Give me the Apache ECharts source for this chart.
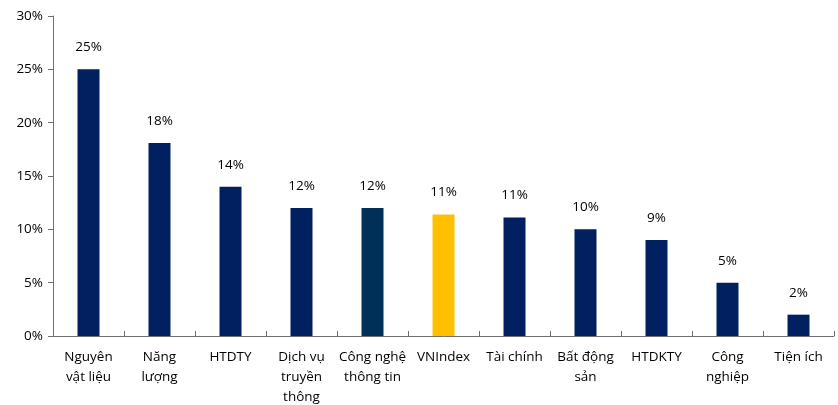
<!DOCTYPE html>
<html>
<head>
<meta charset="utf-8">
<script src="https://cdn.jsdelivr.net/npm/echarts@6/dist/echarts.min.js"></script>
<style>html,body{margin:0;padding:0;background:#fff}#c{width:838px;height:405px}</style>
</head>
<body>
<div id="c"></div>
<script>
const categories = ["Nguyên\nvật liệu","Năng\nlượng","HTDTY","Dịch vụ\ntruyền\nthông","Công nghệ\nthông tin","VNIndex","Tài chính","Bất động\nsản","HTDKTY","Công\nnghiệp","Tiện ích"];
const values = [25, 18.1, 14, 12, 12, 11.4, 11.1, 10, 9, 5, 2];
const barColors = ["#002060","#002060","#002060","#002060","#003057","#FFC000","#002060","#002060","#002060","#002060","#002060"];
const yTicks = [0,5,10,15,20,25,30];

const font = "'Open Sans', 'Noto Sans', sans-serif";
const chart = echarts.init(document.getElementById('c'), null, {renderer:'canvas'});
chart.setOption({
  animation:false,
  grid:{left:53,right:4,top:16,bottom:69,containLabel:false,outerBoundsMode:'none'},
  xAxis:{
    type:'category',
    data:categories,
    axisLine:{lineStyle:{color:'#6f6f6f',width:1}},
    axisTick:{show:true,inside:true,length:5,alignWithLabel:false,lineStyle:{color:'#6f6f6f'}},
    axisLabel:{color:'#000',fontSize:13.5,fontFamily:font,lineHeight:20,margin:11,interval:0}
  },
  yAxis:{
    type:'value',
    min:yTicks[0],max:yTicks[yTicks.length-1],interval:5,
    splitLine:{show:false},
    axisLine:{show:true,lineStyle:{color:'#6f6f6f',width:1}},
    axisTick:{show:true,length:5,lineStyle:{color:'#6f6f6f'}},
    axisLabel:{color:'#000',fontSize:13.5,fontFamily:font,margin:10,formatter:v=>v+'%'}
  },
  series:[{
    type:'bar',
    barWidth:22,
    data:values.map((v,i)=>({value:v,itemStyle:{color:barColors[i]}})),
    label:{show:true,position:'top',distance:15,color:'#000',fontSize:13.5,fontFamily:font,formatter:p=>Math.round(p.value)+'%'}
  }]
});
</script>
</body>
</html>
